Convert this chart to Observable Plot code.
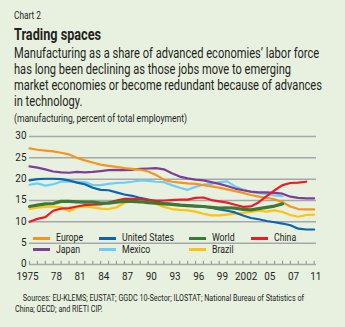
<!DOCTYPE html>
<html><head><meta charset="utf-8">
<script src="https://cdn.jsdelivr.net/npm/d3@7"></script>
<script src="https://cdn.jsdelivr.net/npm/@observablehq/plot@0.6"></script>
<style>
body{margin:0;}
#wrap{position:relative;width:345px;height:327px;background:#e8f1e0;overflow:hidden;font-family:Roboto,"Liberation Sans",sans-serif;color:#231f20;}
.blk{position:absolute;white-space:nowrap;transform-origin:0 0;}
.blk span{display:block;}
#chartno{left:14px;top:10px;font-size:10.5px;line-height:12px;}
#title{left:14px;top:26px;font-size:16.5px;line-height:18px;font-weight:bold;}
#sub{left:14px;top:45px;font-size:14.2px;line-height:16px;}
#unit{left:14px;top:113px;font-size:10.5px;line-height:12px;}
#plot{position:absolute;left:0;top:125px;}
#legend{position:absolute;left:0;top:232px;}
.li{position:absolute;white-space:nowrap;font-size:11.2px;line-height:11px;transform-origin:0 0;}
.sw{position:absolute;height:3px;width:17px;}
#src{left:15px;top:293px;font-size:9.2px;line-height:10.5px;}
</style></head>
<body><div id="wrap">
<div id="chartno" class="blk"><span>Chart 2</span></div>
<div id="title" class="blk"><span>Trading spaces</span></div>
<div id="sub" class="blk"><span>Manufacturing as a share of advanced economies’ labor force</span><span>has long been declining as those jobs move to emerging</span><span>market economies or become redundant because of advances</span><span>in technology.</span></div>
<div id="unit" class="blk"><span>(manufacturing, percent of total employment)</span></div>
<div id="plot"></div>
<div id="legend"></div>
<div id="src" class="blk"><span style="padding-left:10px">Sources: EU-KLEMS; EUSTAT; GGDC 10-Sector; ILOSTAT; National Bureau of Statistics of</span><span>China; OECD; and RIETI CIP.</span></div>
</div>
<script>
const startYear = 1975;
const europe = [27.2,26.9,26.7,26.5,26.2,25.8,25.0,24.4,23.9,23.4,23.1,22.9,22.6,22.4,22.2,21.8,21.0,19.9,19.4,19.2,19.0,18.9,18.6,18.3,18.0,17.6,17.2,16.8,16.3,15.9,15.6,15.3,14.6,13.6,13.0,12.9,12.9];
const unitedStates = [19.7,20.0,20.1,20.1,20.0,19.7,19.2,18.8,18.0,17.5,17.4,16.9,16.4,16.1,15.6,15.2,14.8,14.4,14.2,14.0,13.8,13.7,13.6,13.3,12.9,12.6,12.2,11.5,10.9,10.6,10.2,9.9,9.6,9.2,8.4,8.2,8.2];
const world = [13.6,13.9,14.2,14.3,14.8,14.8,14.7,14.6,14.6,14.4,14.4,14.6,14.8,14.8,14.7,14.5,14.4,14.2,14.1,13.9,13.8,13.7,13.6,13.4,13.2,13.3,13.2,12.9,12.8,13.1,13.4,13.7,14.2];
const china = [10.0,10.7,11.1,12.6,13.1,13.2,13.6,13.9,14.0,14.1,14.5,15.0,15.4,15.4,15.3,15.1,15.0,15.0,15.1,15.2,15.2,15.6,15.7,15.1,14.8,14.5,14.0,13.5,13.6,14.6,16.0,17.4,18.6,19.1,19.2,19.4];
const japan = [23.0,22.7,22.3,21.8,21.6,21.5,21.7,21.6,21.7,21.9,22.1,22.2,22.1,22.2,22.4,22.5,22.6,22.3,21.4,20.6,20.2,19.9,19.7,19.3,18.9,18.4,17.8,17.4,17.1,16.9,16.9,16.8,16.6,15.9,15.6,15.5,15.5];
const mexico = [18.7,19.0,18.5,18.8,19.4,19.5,19.4,19.3,18.6,18.6,18.9,19.1,19.2,19.4,19.7,19.6,19.4,19.3,18.6,18.0,17.5,18.2,18.7,18.9,19.3,19.5,18.3,17.6,17.0,16.7,16.5,16.2,16.0];
const brazil = [13.0,13.3,13.5,13.6,13.4,12.5,13.4,13.6,13.4,13.1,13.0,13.4,14.4,15.0,15.1,14.8,14.2,13.5,13.0,12.8,12.7,12.4,11.9,11.5,11.5,11.7,11.9,12.1,12.3,12.6,12.4,12.7,12.3,11.6,11.2,11.6,11.7];

const seriesNames = ["Europe","United States","World","China","Japan","Mexico","Brazil"];
const seriesValues = [europe, unitedStates, world, china, japan, mexico, brazil];
const seriesColors = ["#f7941d","#0a64b4","#3c7a34","#ed1c24","#7b3f98","#6dcdf5","#ffc20e"];
const drawOrder = ["Brazil","Mexico","Japan","Europe","United States","China","World"];

const yTicks = [0,5,10,15,20,25,30];
const xTickYears = [1975,1978,1981,1984,1987,1990,1993,1996,1999,2002,2005,2008,2011];
const xTickLabels = ["1975","78","81","84","87","90","93","96","99","2002","05","07","11"];
const allYears = d3.range(1975, 2012);

const rows = [];
seriesNames.forEach((name, i) => {
  seriesValues[i].forEach((v, j) => rows.push({series: name, year: startYear + j, value: v}));
});
const colorOf = Object.fromEntries(seriesNames.map((n, i) => [n, seriesColors[i]]));

const lineMarks = drawOrder.map(name => Plot.line(rows.filter(r => r.series === name), {
  x: "year", y: "value", stroke: colorOf[name],
  strokeWidth: name === "World" ? 3.2 : 2.2, curve: "linear", strokeLinejoin: "round"
}));

const chart = Plot.plot({
  width: 345, height: 160,
  marginLeft: 29, marginRight: 29, marginTop: 11, marginBottom: 21,
  x: {domain: [1975, 2011.3], axis: null},
  y: {domain: [0, 30], axis: null},
  style: {background: "transparent", fontFamily: "Roboto, sans-serif"},
  marks: [
    Plot.ruleY(yTicks, {stroke: "#a5a7a9", strokeWidth: 1.5}),
    Plot.ruleX(allYears, {x: d => d, y1: 0, y2: 0.75, stroke: "#8f9193", strokeWidth: 1}),
    Plot.text(yTicks, {x: 1975, y: d => d, text: d => String(d), textAnchor: "end", dx: -3, dy: -0.8, fontSize: 11, fill: "#231f20"}),
    Plot.text(xTickYears, {x: d => d === 1975 ? d - 0.25 : (d === 2011 ? d + 0.2 : d + 0.4), y: 0, text: (d, i) => xTickLabels[i], dy: 11.5, fontSize: 11, fill: "#231f20"}),
    ...lineMarks
  ]
});
document.getElementById("plot").appendChild(chart);
// condense svg texts
chart.querySelectorAll("text").forEach(t => {
  const w = t.getComputedTextLength();
  t.setAttribute("textLength", (w * 0.9).toFixed(2));
  t.setAttribute("lengthAdjust", "spacingAndGlyphs");
});

// legend
const colLeft = [33, 99, 189, 251];
const leg = document.getElementById("legend");
const legendTexts = [];
seriesNames.forEach((name, i) => {
  const col = i % 4, row = Math.floor(i / 4);
  const sw = document.createElement("div");
  sw.className = "sw";
  sw.style.left = colLeft[col] + "px";
  sw.style.top = (row * 11.5 + 4.5) + "px";
  sw.style.background = colorOf[name];
  leg.appendChild(sw);
  const t = document.createElement("div");
  t.className = "li";
  t.style.left = (colLeft[col] + 23) + "px";
  t.style.top = (row * 11.5) + "px";
  t.textContent = name;
  leg.appendChild(t);
  legendTexts.push(t);
});
const usW = legendTexts[1].getBoundingClientRect().width;
const legF = 52 / usW;
legendTexts.forEach(t => t.style.transform = `scaleX(${legF})`);

function fit(id, lineIdx, target) {
  const el = document.getElementById(id);
  const sp = el.querySelectorAll("span")[lineIdx];
  sp.style.display = "inline-block";
  const w = sp.getBoundingClientRect().width;
  sp.style.display = "block";
  el.style.transform = `scaleX(${target / w})`;
}
fit("chartno", 0, 27);
fit("title", 0, 87);
fit("sub", 2, 308);
fit("unit", 0, 173);
fit("src", 0, 289);
</script>
</body></html>
